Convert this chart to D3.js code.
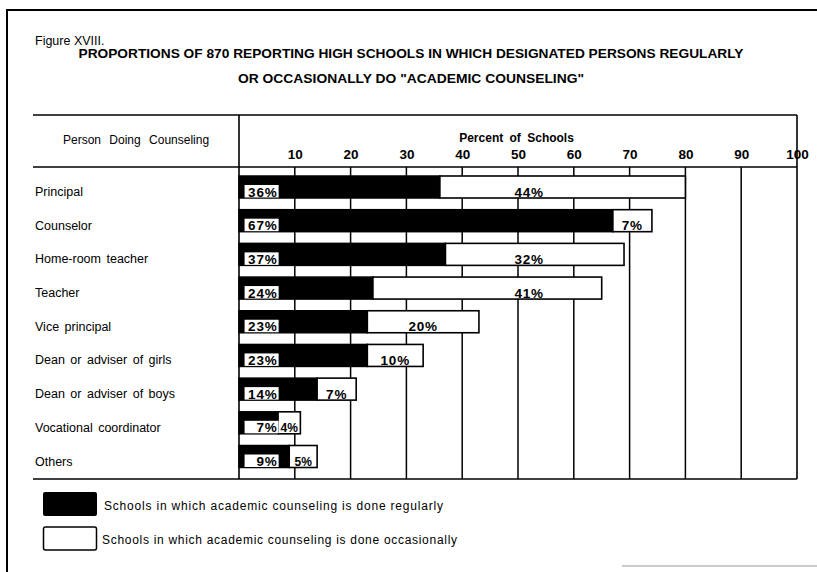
<!DOCTYPE html>
<html><head><meta charset="utf-8">
<script src="https://cdn.jsdelivr.net/npm/d3@7"></script>
<style>body{margin:0;background:#fff} svg{display:block}</style>
</head><body><svg id="c" width="817" height="572"></svg>
<script>
const categories = ["Principal","Counselor","Home-room teacher","Teacher","Vice principal","Dean or adviser of girls","Dean or adviser of boys","Vocational coordinator","Others"];
const regular = [36,67,37,24,23,23,14,7,9];
const occasional = [44,7,32,41,20,10,7,4,5];
const tickValues = [10,20,30,40,50,60,70,80,90,100];
const figureLabel = "Figure XVIII.";
const titleLines = ["PROPORTIONS OF 870 REPORTING HIGH SCHOOLS IN WHICH DESIGNATED PERSONS REGULARLY","OR OCCASIONALLY DO \"ACADEMIC COUNSELING\""];
const columnHeader = "Person Doing Counseling";
const axisTitle = "Percent of Schools";
const legendLabels = ["Schools in which academic counseling is done regularly","Schools in which academic counseling is done occasionally"];

const svg = d3.select("#c");
const font = "'Liberation Sans', Arial, sans-serif";
const tableTop = 115, headerLine = 167, tableBottom = 479, tableLeft = 33;

const x = d3.scaleLinear().domain([0,100]).range([239,797]);
const y = d3.scalePoint().domain(categories).range([187,456.5]);
const barH = 22;

// outer frame (top and left)
svg.append("path").attr("d","M7,572 L7,10 L817,10").attr("fill","none").attr("stroke","#000").attr("stroke-width",2);
svg.append("line").attr("x1",622).attr("x2",817).attr("y1",566).attr("y2",566).attr("stroke","#bbb").attr("stroke-width",1.5);

// titles
svg.append("text").attr("x",35).attr("y",45).attr("font-family",font).attr("font-size",12.5).text(figureLabel);
svg.append("text").attr("x",411).attr("y",58).attr("text-anchor","middle").attr("font-family",font)
  .attr("font-weight","bold").attr("font-size",13).attr("textLength",665).attr("lengthAdjust","spacingAndGlyphs").text(titleLines[0]);
svg.append("text").attr("x",411).attr("y",83).attr("text-anchor","middle").attr("font-family",font)
  .attr("font-weight","bold").attr("font-size",13).attr("textLength",346).attr("lengthAdjust","spacingAndGlyphs").text(titleLines[1]);

// gridlines
svg.append("g").selectAll("line").data(tickValues.filter(d=>d<100)).join("line")
  .attr("x1",d=>x(d)).attr("x2",d=>x(d)).attr("y1",headerLine).attr("y2",tableBottom)
  .attr("stroke","#000").attr("stroke-width",1.5);

// table lines
const tl = svg.append("g").attr("stroke","#000").attr("stroke-width",1.6).attr("fill","none");
tl.append("line").attr("x1",tableLeft).attr("x2",x(100)).attr("y1",tableTop).attr("y2",tableTop);
tl.append("line").attr("x1",tableLeft).attr("x2",x(100)).attr("y1",headerLine).attr("y2",headerLine);
tl.append("line").attr("x1",tableLeft).attr("x2",x(100)).attr("y1",tableBottom).attr("y2",tableBottom);
tl.append("line").attr("x1",x(0)).attr("x2",x(0)).attr("y1",tableTop).attr("y2",tableBottom);
tl.append("line").attr("x1",x(100)).attr("x2",x(100)).attr("y1",tableTop).attr("y2",tableBottom);

// header texts
svg.append("text").attr("x",63).attr("y",144).attr("font-family",font).attr("font-size",12).attr("word-spacing",5).text(columnHeader);
svg.append("text").attr("x",x(40)-3).attr("y",141.5).attr("font-family",font).attr("font-weight","bold").attr("font-size",12).attr("word-spacing",3).text(axisTitle);

// axis tick labels
const ax = d3.axisTop(x).tickValues(tickValues).tickSize(0).tickPadding(0);
const axG = svg.append("g").attr("transform",`translate(0,159)`).call(ax);
axG.select(".domain").remove();
axG.selectAll("text").attr("font-family",font).attr("font-weight","bold").attr("font-size",13.5).attr("fill","#000").attr("dy",0);

// rows
const rows = categories.map((c,i)=>({c, r:regular[i], o:occasional[i]}));
const g = svg.append("g");
g.selectAll("text.cat").data(rows).join("text").attr("class","cat")
  .attr("x",35).attr("y",d=>y(d.c)+9).attr("font-family",font).attr("font-size",12.5).attr("word-spacing",2).text(d=>d.c);

g.selectAll("rect.reg").data(rows).join("rect").attr("class","reg")
  .attr("x",x(0)).attr("y",d=>y(d.c)-barH/2).attr("width",d=>x(d.r)-x(0)).attr("height",barH)
  .attr("fill","#000").attr("stroke","#000").attr("stroke-width",1.5);
g.selectAll("rect.occ").data(rows).join("rect").attr("class","occ")
  .attr("x",d=>x(d.r)).attr("y",d=>y(d.c)-barH/2).attr("width",d=>x(d.r+d.o)-x(d.r)).attr("height",barH)
  .attr("fill","#fff").attr("stroke","#000").attr("stroke-width",1.6);

// labels in black segment (white box)
g.selectAll("rect.lb").data(rows).join("rect").attr("class","lb")
  .attr("x",x(1)).attr("y",d=>y(d.c)-2).attr("width",x(7.1)-x(1)).attr("height",12.5).attr("fill","#fff");
g.selectAll("text.lr").data(rows).join("text").attr("class","lr")
  .attr("x",x(6.9)).attr("y",d=>y(d.c)+9.5).attr("text-anchor","end").attr("font-family",font)
  .attr("font-weight","bold").attr("font-size",13.5).attr("letter-spacing",0.8).text(d=>d.r+"%");

// labels in white segment
function occX(d){
  const s = x(d.r), e = x(d.r+d.o), p = x(52);
  return (p > s+25 && p < e-25) ? p : (s+e)/2;
}
g.selectAll("text.lo").data(rows).join("text").attr("class","lo")
  .attr("x",d=>occX(d)).attr("y",d=>y(d.c)+9.5).attr("text-anchor","middle").attr("font-family",font)
  .attr("font-weight","bold").attr("font-size",d=>d.o<6?12:13.5).attr("letter-spacing",d=>d.o<6?0:0.8).text(d=>d.o+"%");

// legend
const lg = svg.append("g");
lg.append("rect").attr("x",43).attr("y",492).attr("width",54).attr("height",24).attr("rx",2).attr("fill","#000");
lg.append("rect").attr("x",43.5).attr("y",527).attr("width",53).attr("height",23).attr("rx",2).attr("fill","#fff").attr("stroke","#000").attr("stroke-width",1.5);
lg.append("text").attr("x",104).attr("y",510).attr("font-family",font).attr("font-size",12).attr("textLength",339).attr("lengthAdjust","spacing").text(legendLabels[0]);
lg.append("text").attr("x",102).attr("y",544).attr("font-family",font).attr("font-size",12).attr("textLength",355).attr("lengthAdjust","spacing").text(legendLabels[1]);
</script></body></html>
